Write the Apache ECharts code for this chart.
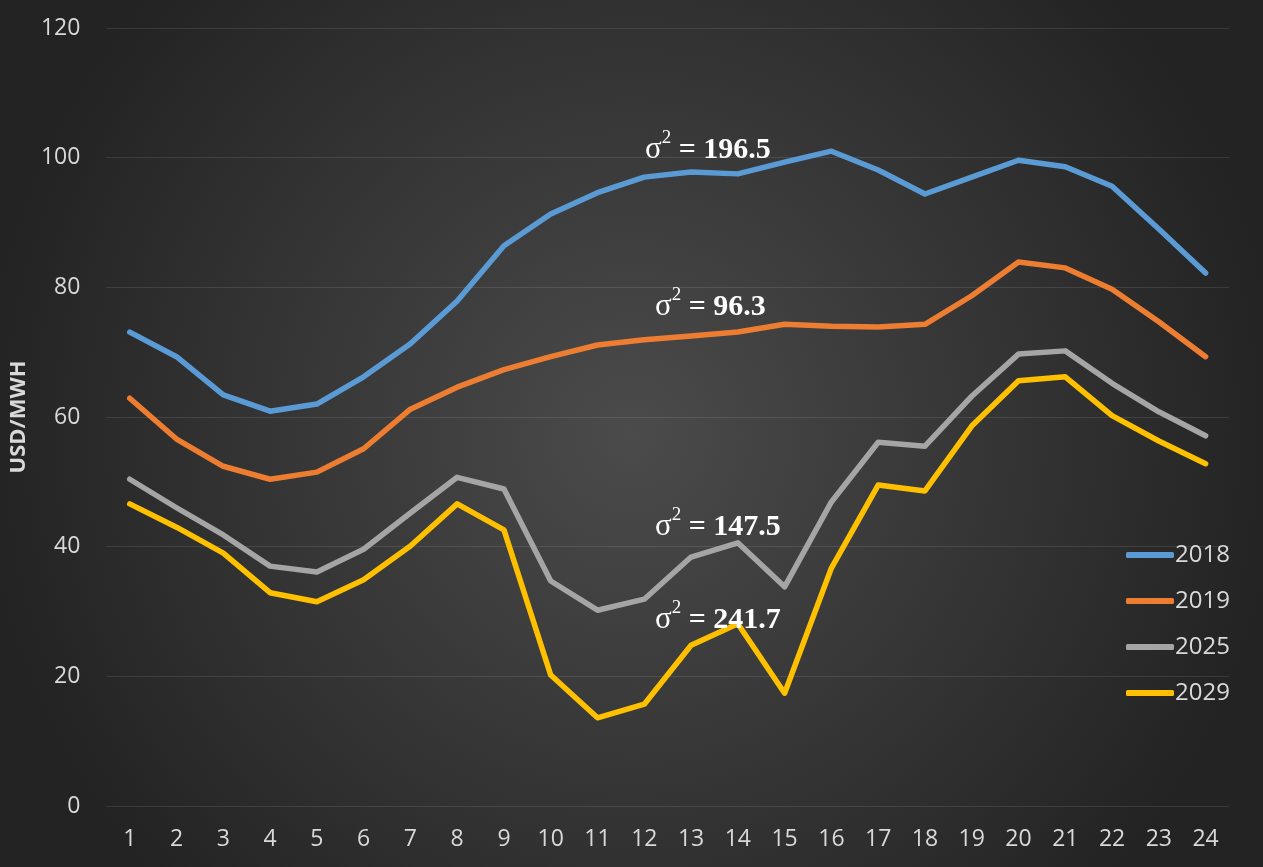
<!DOCTYPE html>
<html>
<head>
<meta charset="utf-8">
<script src="https://cdn.jsdelivr.net/npm/echarts@6/dist/echarts.min.js"></script>
<style>
  html, body { margin: 0; padding: 0; }
  #chart { width: 1263px; height: 867px; }
</style>
</head>
<body>
<div id="chart"></div>
<script>
// hours
const hours = ["1","2","3","4","5","6","7","8","9","10","11","12","13","14","15","16","17","18","19","20","21","22","23","24"];

const y2018 = [73.1, 69.3, 63.4, 60.9, 62.0, 66.2, 71.3, 77.9, 86.4, 91.3, 94.6, 97.0, 97.8, 97.5, 99.3, 101.0, 98.1, 94.4, 97.0, 99.6, 98.6, 95.6, 89.0, 82.2];
const y2019 = [62.9, 56.6, 52.4, 50.4, 51.5, 55.1, 61.2, 64.6, 67.3, 69.3, 71.1, 71.9, 72.5, 73.1, 74.3, 74.0, 73.9, 74.3, 78.7, 83.9, 83.0, 79.7, 74.7, 69.3];
const y2025 = [50.4, 46.0, 41.8, 37.0, 36.1, 39.6, 45.2, 50.7, 48.9, 34.7, 30.2, 31.9, 38.4, 40.6, 33.8, 46.9, 56.1, 55.5, 63.2, 69.7, 70.2, 65.2, 60.8, 57.1];
const y2029 = [46.6, 43.0, 39.0, 32.9, 31.5, 34.9, 40.1, 46.6, 42.6, 20.2, 13.6, 15.7, 24.8, 28.1, 17.4, 36.7, 49.5, 48.6, 58.6, 65.6, 66.2, 60.2, 56.3, 52.8];

const seriesNames = ["2018", "2019", "2025", "2029"];
const seriesColors = ["#5b9bd5", "#ed7d31", "#a5a5a5", "#ffc000"];
const variances = ["196.5", "96.3", "147.5", "241.7"];

const chart = echarts.init(document.getElementById("chart"));

//方差标注
const notePos = [[645, 148], [655, 305], [655, 525], [655, 618]];
const notes = variances.map((v, i) => ({
  type: "text",
  left: notePos[i][0],
  top: notePos[i][1] - 19,
  z: 100,
  style: {
    text: "{s|σ}{sup|2}{b| = " + v + "}",
    rich: {
      s: { fontFamily: "Liberation Serif", fontSize: 31, fill: "#ffffff", verticalAlign: "bottom", lineHeight: 36 },
      sup: { fontFamily: "Liberation Serif", fontSize: 19, fill: "#ffffff", verticalAlign: "top", lineHeight: 36, padding: [0, 0, 12, 0] },
      b: { fontFamily: "Liberation Serif", fontSize: 30, fontWeight: "bold", fill: "#ffffff", verticalAlign: "bottom", lineHeight: 36 },
    },
  },
}));

const dataSets = [y2018, y2019, y2025, y2029];

const option = {
  backgroundColor: {
    type: "radial",
    x: 0.5, y: 0.5, r: 0.75,
    colorStops: [
      { offset: 0, color: "#4b4b4b" },
      { offset: 1, color: "#232323" },
    ],
  },
  textStyle: { fontFamily: "Open Sans" },
  grid: { left: 106, right: 34, top: 28, bottom: 61 },
  legend: {
    orient: "vertical",
    left: 1121,
    top: 538,
    itemWidth: 48,
    itemHeight: 6,
    itemGap: 22,
    icon: "roundRect",
    textStyle: { color: "#d9d9d9", fontSize: 24, padding: [0, 0, 0, -4] },
    data: seriesNames,
  },
  xAxis: {
    type: "category",
    data: hours,
    boundaryGap: true,
    axisLine: { show: false },
    axisTick: { show: false },
    axisLabel: { color: "#d9d9d9", fontSize: 23, margin: 22 },
  },
  yAxis: {
    type: "value",
    min: 0,
    max: 120,
    interval: 20,
    name: "USD/MWH",
    nameLocation: "middle",
    nameGap: 71,
    nameTextStyle: { color: "#d9d9d9", fontSize: 22, fontWeight: "bold" },
    axisLine: { show: false },
    axisTick: { show: false },
    axisLabel: { color: "#d9d9d9", fontSize: 23, margin: 26 },
    splitLine: { lineStyle: { color: "rgba(255,255,255,0.1)", width: 1 } },
  },
  graphic: notes,
  series: seriesNames.map((name, i) => ({
    name: name,
    type: "line",
    data: dataSets[i],
    symbol: "none",
    color: seriesColors[i],
    lineStyle: { width: 5.5, color: seriesColors[i], cap: "round", join: "round" },
  })),
};
chart.setOption(option);
</script>
</body>
</html>
